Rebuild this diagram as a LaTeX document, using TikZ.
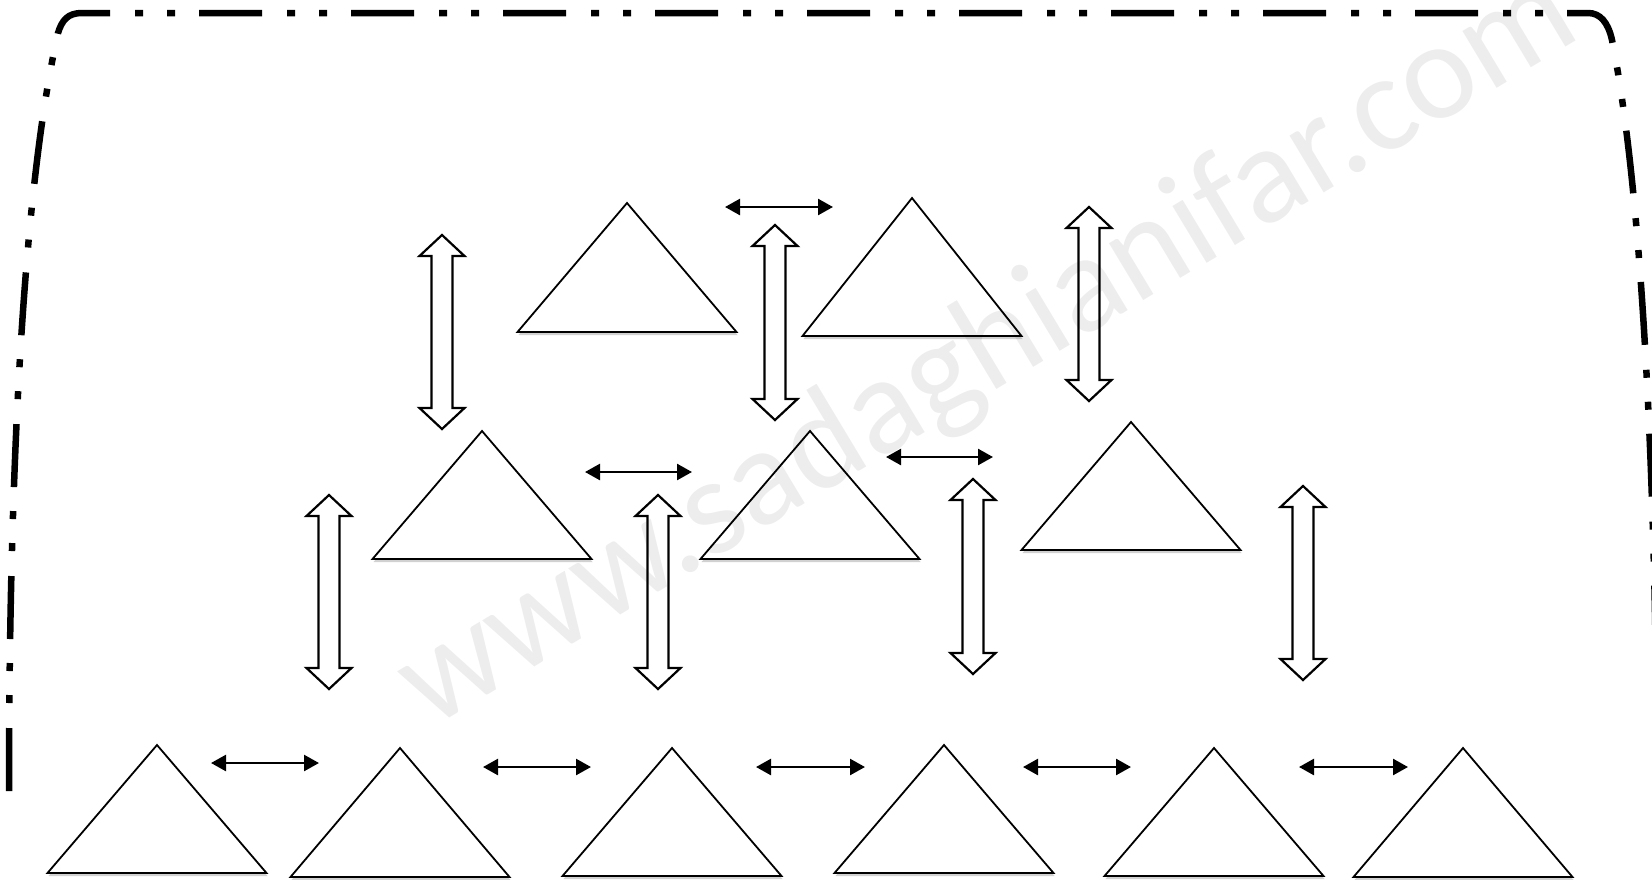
\documentclass[tikz,border=0pt]{standalone}
\usepackage{fontspec}
\newfontfamily\wmfont{Carlito}
\usetikzlibrary{arrows.meta,shadows}
\tikzset{
  frame/.style={line width=6.5pt, line cap=butt,
    dash pattern=on 63pt off 25pt on 8pt off 24pt on 8pt off 24pt},
  tri/.style={draw=black, line width=1.8pt, fill=white, line join=miter,
    drop shadow={shadow xshift=1pt, shadow yshift=-3pt, opacity=0.18, fill=black}},
  blockarrow/.style={draw=black, line width=2.2pt, fill=white, line join=miter},
  smallarrow/.style={line width=2.5pt,
    {Triangle[length=15pt,width=16pt]}-{Triangle[length=15pt,width=16pt]}},
  watermark/.style={text=black, text opacity=0.07, font=\wmfont\fontsize{139}{150}\selectfont}
}
% name, apex x, apex y, base y
\newcommand\mytri[4]{%
  \draw[tri] (#2-109.5,#4) -- (#2,#3) -- (#2+109.5,#4) -- cycle;
  \coordinate (#1) at (#2,#3);}
% name, x, top tip y, bottom tip y
\newcommand\myvarrow[4]{%
  \draw[blockarrow] (#2,#3) -- (#2+22.5,#3+21) -- (#2+10.5,#3+21) -- (#2+10.5,#4-21)
    -- (#2+22.5,#4-21) -- (#2,#4) -- (#2-22.5,#4-21) -- (#2-10.5,#4-21)
    -- (#2-10.5,#3+21) -- (#2-22.5,#3+21) -- cycle;
  \coordinate (#1) at (#2,#3);}
\begin{document}
\begin{tikzpicture}[x=1pt,y=-1pt]
\path[use as bounding box, fill=white] (0,0) rectangle (1652,879);
\begin{scope}
\clip (0,0) rectangle (1652,879);
% frame
\coordinate (fbl) at (9,791);
\coordinate (fbr) at (1657,791);
\draw[frame] (fbl) .. controls (9,450) and (25,180) .. (58,33)
  .. controls (62,20) and (68,13) .. (82,13) -- (1588,13)
  .. controls (1600,13) and (1608,22) .. (1612,40)
  .. controls (1640,180) and (1656,450) .. (fbr);
\end{scope}
% top row triangles
\mytri{t1}{627}{203}{332}
\mytri{t2}{912}{198}{336}
% middle row
\mytri{t3}{482}{431}{559}
\mytri{t4}{810}{431}{559}
\mytri{t5}{1131}{422}{550}
% bottom row
\mytri{b1}{157}{745}{873}
\mytri{b2}{400}{748}{877}
\mytri{b3}{672}{748}{876}
\mytri{b4}{944}{745}{873}
\mytri{b5}{1214}{748}{876}
\mytri{b6}{1463}{748}{877}
% block double arrows
\myvarrow{v1}{442}{235}{429}
\myvarrow{v2}{775}{225}{420}
\myvarrow{v3}{1089}{207}{401}
\myvarrow{v4}{329}{495}{689}
\myvarrow{v5}{658}{495}{689}
\myvarrow{v6}{973}{479}{674}
\myvarrow{v7}{1303}{486}{680}
% small double arrows
\coordinate (s1a) at (725,207);  \coordinate (s1b) at (833,207);
\coordinate (s2a) at (585,472);  \coordinate (s2b) at (692,472);
\coordinate (s3a) at (886,457);  \coordinate (s3b) at (993,457);
\coordinate (s4a) at (211,763);  \coordinate (s4b) at (319,763);
\coordinate (s5a) at (483,767);  \coordinate (s5b) at (591,767);
\coordinate (s6a) at (756,767);  \coordinate (s6b) at (865,767);
\coordinate (s7a) at (1023,767); \coordinate (s7b) at (1131,767);
\coordinate (s8a) at (1299,767); \coordinate (s8b) at (1408,767);
\foreach \i in {1,...,8}{\draw[smallarrow] (s\i a) -- (s\i b);}
% watermark
\node[watermark, anchor=base, rotate=31, inner sep=0] (wm) at (1007,383) {www.sadaghianifar.com};
\end{tikzpicture}
\end{document}
